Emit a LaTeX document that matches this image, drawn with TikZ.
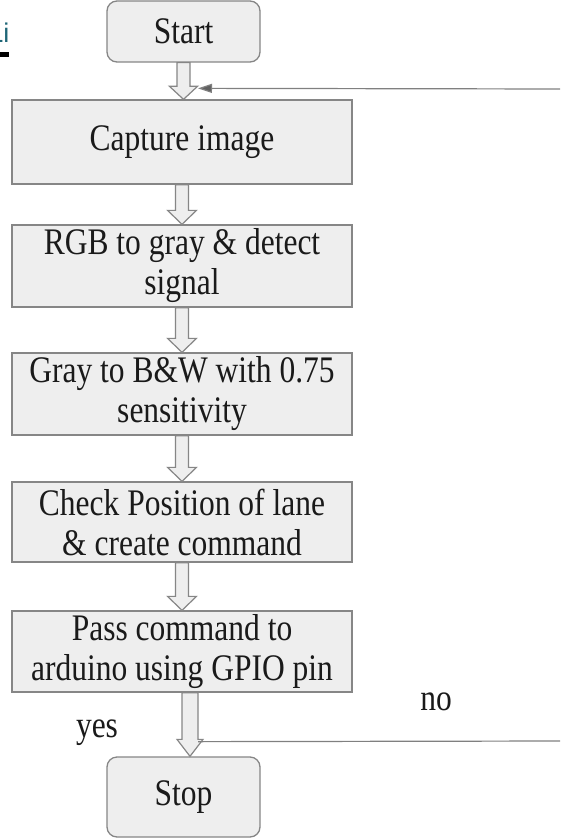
\documentclass[tikz,border=0pt]{standalone}
\usepackage{fontspec}
\setmainfont{Liberation Serif}[FakeStretch=0.84]
\newfontfamily\artsans{Liberation Sans}
\usetikzlibrary{arrows.meta,calc}
\definecolor{boxfill}{HTML}{EEEEEE}
\definecolor{boxline}{HTML}{868686}
\definecolor{linegray}{HTML}{808080}
\definecolor{tipgray}{HTML}{606060}
\definecolor{txt}{HTML}{1A1A1A}
\definecolor{linkteal}{HTML}{1F6677}
% #1 from node, #2 to node, #3 x offset, #4 shaft half width, #5 head half width, #6 head length
\newcommand{\blkarrow}[6]{%
  \draw[blockarrow] let \p1=($(#1.south)+(#3,0)$), \p2=($(#2.north)+(#3,0)$) in
    (\x1-#4pt,\y1) -- (\x1-#4pt,\y2+#6pt) -- (\x1-#5pt,\y2+#6pt) -- (\x1,\y2)
    -- (\x1+#5pt,\y2+#6pt) -- (\x1+#4pt,\y2+#6pt) -- (\x1+#4pt,\y1) -- cycle;}
\begin{document}
\begin{tikzpicture}[x=1pt,y=-1pt,
  procbox/.style={draw=boxline, fill=boxfill, line width=1.3pt, align=center,
    text=txt, font=\fontsize{37.5}{40}\selectfont, inner sep=0pt,
    minimum width=340pt},
  termbox/.style={procbox, rounded corners=10pt, minimum width=153pt,
    minimum height=61pt},
  blockarrow/.style={draw=boxline, fill=boxfill, line width=1.2pt, line join=miter},
  flowline/.style={draw=linegray, line width=1.2pt},
  lbl/.style={text=txt, font=\fontsize{37.5}{40}\selectfont, inner sep=0pt}]
\useasboundingbox (0,0) rectangle (560,840);
\fill[white] (0,0) rectangle (560,840);

% cropped artifact at top left
\begin{scope}
  \clip (0,0) rectangle (20,60);
  \node[anchor=base east, inner sep=0pt, text=linkteal,
    font=\artsans\fontsize{27}{30}\selectfont] (art) at (9.5,43) {Li};
  \fill[black] (0,52) rectangle (9,57);
\end{scope}

% boxes
\node[termbox] (start) at (183.5,31.5) {Start};
\node[procbox, minimum height=84pt] (capture) at (182,142) {Capture image};
\node[procbox, minimum height=82pt] (rgb) at (182,266) {RGB to gray \& detect\\signal};
\node[procbox, minimum height=82pt] (gray) at (182,394) {Gray to B\&W with 0.75\\sensitivity};
\node[procbox, minimum height=80pt] (check) at (182,522) {Check Position of lane\\\& create command};
\node[procbox, minimum height=81pt] (pass) at (182,651.5) {Pass command to\\arduino using GPIO pin};
\node[termbox, minimum height=80pt] (stop) at (183.5,797) {Stop};

% block arrows
\blkarrow{start}{capture}{0}{6.5}{14}{13}
\blkarrow{capture}{rgb}{0}{6.5}{14.5}{14}
\blkarrow{rgb}{gray}{0}{6.5}{14.5}{14}
\blkarrow{gray}{check}{0}{6.5}{14.5}{14}
\blkarrow{check}{pass}{0}{6.5}{14.5}{14}
\blkarrow{pass}{stop}{8}{8}{13}{17}

% loop lines
\coordinate (loopEnd) at (560,89);
\coordinate (loopTip) at ($(capture.north)+(16,-11)$);
\draw[flowline, -{Triangle[length=14pt,width=9pt,fill=tipgray]}, draw=linegray]
  (loopEnd) -- (loopTip);
\coordinate (noStart) at ($(pass.south)+(16,49)$);
\coordinate (noEnd) at (560,741);
\draw[flowline] (noStart) -- (noEnd);

% labels
\node[lbl, anchor=base] (yes) at (97,737) {yes};
\node[lbl, anchor=base] (no) at (436,710) {no};
\end{tikzpicture}
\end{document}
